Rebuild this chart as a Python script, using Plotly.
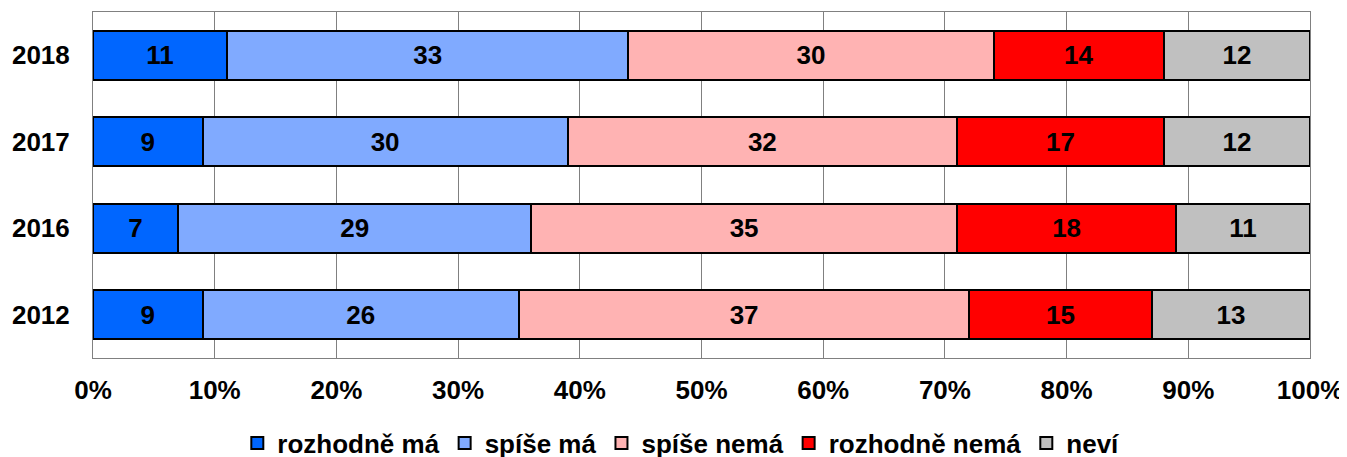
import plotly.graph_objects as go

years = ["2018", "2017", "2016", "2012"]
series_names = ["rozhodně má", "spíše má", "spíše nemá", "rozhodně nemá", "neví"]
rozhodne_ma = [11, 9, 7, 9]
spise_ma = [33, 30, 29, 26]
spise_nema = [30, 32, 35, 37]
rozhodne_nema = [14, 17, 18, 15]
nevi = [12, 12, 11, 13]
tick_vals = [0, 10, 20, 30, 40, 50, 60, 70, 80, 90, 100]
tick_text = ["0%", "10%", "20%", "30%", "40%", "50%", "60%", "70%", "80%", "90%", "100%"]

values = [rozhodne_ma, spise_ma, spise_nema, rozhodne_nema, nevi]
colors = ["#0066FF", "#80AAFF", "#FFB3B3", "#FF0000", "#C0C0C0"]

FONT = "Liberation Sans, Arial, sans-serif"
FS = 26

fig = go.Figure()
for name, vals, col in zip(series_names, values, colors):
    fig.add_trace(go.Bar(
        y=years, x=vals, name=name, orientation="h",
        marker=dict(color=col, line=dict(color="black", width=2)),
        text=[str(v) for v in vals], textposition="inside",
        insidetextanchor="middle", textangle=0,
        textfont=dict(family=FONT, size=FS, color="black", weight="bold"),
        hoverinfo="skip",
    ))

fig.update_layout(
    barmode="stack",
    bargap=0.43,
    width=1347, height=457,
    margin=dict(l=85, r=45, t=4, b=107, autoexpand=False),
    plot_bgcolor="white", paper_bgcolor="white",
    font=dict(family=FONT, size=FS, color="black", weight="bold"),
    uniformtext=dict(minsize=FS, mode="show"),
    xaxis=dict(range=[0, 100], tickvals=tick_vals, ticktext=tick_text,
               showgrid=True, gridcolor="#808080", gridwidth=1,
               showline=True, linecolor="#808080", mirror=True,
               zeroline=False, ticks="", ticklabelstandoff=9, automargin=False,
               tickfont=dict(family=FONT, size=FS, color="black", weight="bold")),
    yaxis=dict(categoryorder="array", categoryarray=years[::-1],
               showline=True, linecolor="#808080", mirror=True,
               showgrid=False, ticks="", ticklabelstandoff=17, automargin=False,
               tickfont=dict(family=FONT, size=FS, color="black", weight="bold")),
    legend=dict(orientation="h", x=0.483, xanchor="center",
                yref="container", y=0.048, yanchor="middle",
                font=dict(family=FONT, size=FS, color="black", weight="bold"),
                traceorder="normal", itemwidth=30, tracegroupgap=0),
    showlegend=True,
)

fig.write_html("out.html")
